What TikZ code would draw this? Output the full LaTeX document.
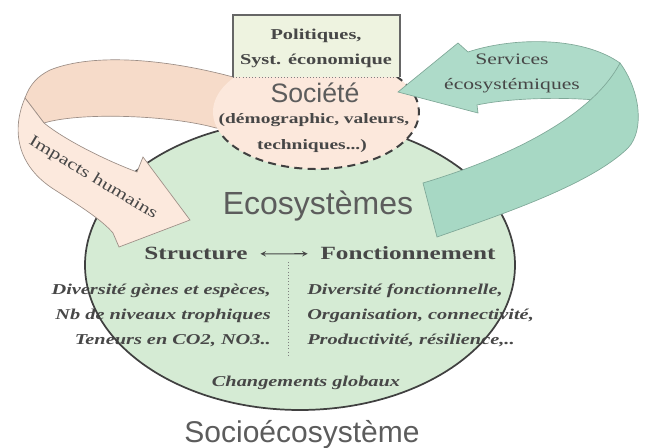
\documentclass[tikz,border=0pt]{standalone}
\usepackage{fontspec}
\setmainfont{Liberation Serif}
\newfontfamily\wideserif{Liberation Serif}[FakeStretch=1.35]
\newfontfamily\plainsans{Liberation Sans}
\definecolor{ecofill}{HTML}{D5EBD4}
\definecolor{socfill}{HTML}{FCE8DC}
\definecolor{boxfill}{HTML}{EEF3E0}
\definecolor{impback}{HTML}{F6DBC9}
\definecolor{impfront}{HTML}{FCE9DD}
\definecolor{servback}{HTML}{AEDBC9}
\definecolor{servfront}{HTML}{A7D8C4}
\definecolor{peachline}{HTML}{9C8E86}
\definecolor{tealline}{HTML}{7FA898}
\definecolor{txtgray}{HTML}{474747}
\definecolor{sansgray}{HTML}{5C5C5C}
\definecolor{linegray}{HTML}{404040}

\begin{document}
\begin{tikzpicture}[x=0.75pt, y=-0.75pt,
  every node/.append style={inner sep=1.5pt},
  sanstitle/.style={font=\plainsans\fontsize{#1}{#1}\selectfont, text=sansgray},
  boldtext/.style={font=\wideserif\bfseries\fontsize{#1}{#1}\selectfont, text=txtgray},
  itemtext/.style={font=\wideserif\bfseries\itshape\fontsize{11.3}{13}\selectfont, text=txtgray},
  bandtext/.style={font=\wideserif\fontsize{12}{14}\selectfont, text=txtgray},
  arrowline/.style={draw=peachline, line width=0.5pt},
  servline/.style={draw=tealline, line width=0.5pt}]
  \useasboundingbox (0,0) rectangle (649,448);
  % ecosystem ellipse and its texts
  \fill[ecofill] (300,265) ellipse [x radius=215, y radius=145];
  \node[sanstitle=24, anchor=base] (ecosys) at (318,215) {Ecosystèmes};
  \node[boldtext=14, anchor=base] (struct) at (196,260) {Structure};
  \node[boldtext=14, anchor=base] (fonct) at (408,260) {Fonctionnement};
  \draw[<->, >=stealth, txtgray, line width=0.8pt, shorten <=8pt, shorten >=8pt] (struct) -- (fonct);
  \coordinate (dtop) at (288,262);
  \coordinate (dbot) at (288,357);
  \draw[dotted, gray] (dtop) -- (dbot);
  \node[itemtext, anchor=base east] (divg) at (273,295) {Diversité gènes et espèces,};
  \node[itemtext, anchor=base east] (nbniv) at (273,320) {Nb de niveaux trophiques};
  \node[itemtext, anchor=base east] (teneurs) at (273,345) {Teneurs en CO2, NO3..};
  \node[itemtext, anchor=base west] (divf) at (305,295) {Diversité fonctionnelle,};
  \node[itemtext, anchor=base west] (organ) at (305,320) {Organisation, connectivité,};
  \node[itemtext, anchor=base west] (produc) at (305,345) {Productivité, résilience,..};
  \node[itemtext, anchor=base] (chang) at (306,387) {Changements globaux};
  \draw[line width=1.3pt, linegray] (300,265) ellipse [x radius=215, y radius=145];
  % impacts humains
  \draw[arrowline, fill=impback] (262,80) -- (233,77) .. controls (170,60) and (95,52) .. (50,70)
    .. controls (38,76) and (30,84) .. (25,98) -- (44,123) .. controls (80,112) and (170,115) .. (216,128)
    -- (262,130) -- cycle;
  \draw[arrowline, fill=impfront] (25,98) .. controls (12,128) and (15,165) .. (55,190)
    .. controls (80,206) and (102,220) .. (113,233) -- (119,247) -- (190,220) -- (143,157) -- (137,172)
    .. controls (105,160) and (65,140) .. (44,123) -- cycle;
  \node[bandtext, rotate=-31] (impacts) at (93,178) {Impacts humains};
  % societe
  \fill[socfill] (316,112) ellipse [x radius=103, y radius=57];
  \draw[linegray, line width=1.5pt, dash pattern=on 6pt off 4pt]
    ([shift={(316,112)}]155:103 and 57) arc[start angle=155, end angle=-40, x radius=103, y radius=57];
  \node[sanstitle=20, anchor=base] (societe) at (315,103) {Société};
  \node[boldtext=10.8, anchor=base] (demog) at (314,124) {(démographic, valeurs,};
  \node[boldtext=10.8, anchor=base] (techn) at (312,150) {techniques...)};
  % politiques box
  \fill[boxfill] (233,15) rectangle (400,77);
  \draw[gray!80!black, line width=0.9pt] (233,77) -- (233,15) -- (400,15) -- (400,77);
  \draw[gray, dotted] (233,77) -- (400,77);
  \node[boldtext=11.3, anchor=base] (politiques) at (316,40) {Politiques,};
  \node[boldtext=11.3, anchor=base] (syst) at (316,65) {Syst. économique};
  % services ecosystemiques
  \draw[servline, fill=servback] (398,92) -- (458,43) -- (468,52) .. controls (510,38) and (580,35) .. (620,63)
    -- (628,100) -- (595,100) .. controls (560,97) and (510,98) .. (477,105) -- (478,113) -- cycle;
  \draw[servline, fill=servfront] (423,183) .. controls (500,160) and (590,120) .. (620,63)
    .. controls (640,90) and (645,130) .. (628,148) .. controls (590,185) and (500,215) .. (437,237) -- cycle;
  \node[bandtext, anchor=base] (services) at (512,65) {Services};
  \node[bandtext, anchor=base] (ecoserv) at (512,90) {écosystémiques};
  % title
  \node[sanstitle=22.5, anchor=base] (socio) at (302,442) {Socioécosystème};
\end{tikzpicture}
\end{document}
